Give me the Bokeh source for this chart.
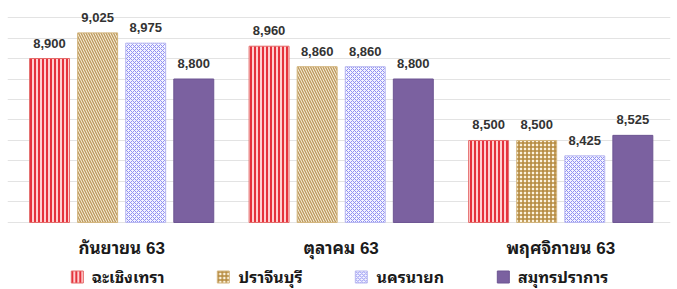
import numpy as np
from bokeh.plotting import figure
from bokeh.models import ColumnDataSource, Legend, LegendItem, FixedTicker, Range1d
from bokeh.embed import file_html
from bokeh.resources import INLINE
from bokeh.core.properties import value

categories = ["กันยายน 63", "ตุลาคม 63", "พฤศจิกายน 63"]
series_names = ["ฉะเชิงเทรา", "ปราจีนบุรี", "นครนายก", "สมุทรปราการ"]
chachoengsao = [8900, 8960, 8500]
prachinburi = [9025, 8860, 8500]
nakhonnayok = [8975, 8860, 8425]
samutprakan = [8800, 8800, 8525]
grid_ticks = list(range(8100, 9101, 100))
y_base, y_top, y_bottom = 8100, 9183, 7773
cat_label_y = 7973

series_values = [chachoengsao, prachinburi, nakhonnayok, samutprakan]
styles = [
    dict(fill_color="#ffd0d0", hatch_color="#e5323c", hatch_pattern=["vertical_line"] * 3,
         hatch_scale=4, hatch_weight=2, line_color="#e46a6a"),
    dict(fill_color="#fcf3df", hatch_color=["#bc9a60", "#bc9a60", "#b58a3e"],
         hatch_pattern=["left_diagonal_line", "left_diagonal_line", "cross"],
         hatch_scale=[5, 5, 4], hatch_weight=[1.4, 1.4, 1.6], line_color="#d2b47c"),
    dict(fill_color="#f4f4ff", hatch_color="#9090f2", hatch_pattern=["diagonal_cross"] * 3,
         hatch_scale=[4] * 3, hatch_weight=[1] * 3, line_color="#b8b8f0"),
    dict(fill_color="#7b61a0", hatch_color="#7b61a0", hatch_pattern=[" "] * 3,
         hatch_scale=[4] * 3, hatch_weight=[1] * 3, line_color="#6d5592"),
]

FONT = "'Liberation Sans', 'Noto Sans Thai Looped', Loma, Garuda, 'Noto Sans Thai', sans-serif"
p = figure(width=677, height=289, output_backend="svg", toolbar_location=None,
           x_range=Range1d(-0.52, 2.50), y_range=Range1d(y_bottom, y_top),
           min_border_left=7, min_border_right=7, min_border_top=0, min_border_bottom=0)
p.outline_line_color = None
p.xaxis.visible = False
p.yaxis.visible = False
p.xgrid.visible = False
p.ygrid.ticker = FixedTicker(ticks=grid_ticks)
p.ygrid.grid_line_color = "#e3e3e3"

offsets = [-1.5, -0.5, 0.5, 1.5]
step = 0.219
bw = 0.182
idx = np.arange(len(categories))
items = []
for k, (name, vals, st) in enumerate(zip(series_names, series_values, styles)):
    x = idx + offsets[k] * step
    hc = st["hatch_color"] if isinstance(st["hatch_color"], list) else [st["hatch_color"]] * 3
    hs = st["hatch_scale"] if isinstance(st["hatch_scale"], list) else [st["hatch_scale"]] * 3
    hw = st["hatch_weight"] if isinstance(st["hatch_weight"], list) else [st["hatch_weight"]] * 3
    src = ColumnDataSource(dict(x=x, top=vals, hp=st["hatch_pattern"], hc=hc, hs=hs, hw=hw,
                                lbl=[f"{v:,}" for v in vals]))
    r = p.vbar(x="x", top="top", bottom=y_base, width=bw, source=src,
               fill_color=st["fill_color"], hatch_color="hc",
               hatch_pattern="hp", hatch_scale="hs", hatch_weight="hw",
               line_color=st["line_color"], line_width=1)
    p.text(x="x", y="top", text="lbl", source=src, text_align="center", text_baseline="bottom",
           y_offset=-11, text_font=value(FONT), text_font_size="13px", text_font_style="bold",
           text_color="#333333")
    items.append(LegendItem(label=name, renderers=[r], index=2))

cat_src = ColumnDataSource(dict(x=idx, y=[cat_label_y] * len(categories), t=categories))
p.text(x="x", y="y", text="t", source=cat_src, text_align="center", text_baseline="middle",
       text_font=value(FONT), text_font_size="17px", text_font_style="bold", text_color="#1a1a1a")

legend = Legend(items=items, orientation="horizontal", location="bottom_center",
                label_text_font=FONT, label_text_font_size="16px", label_text_font_style="bold",
                label_text_color="#1a1a1a", glyph_width=15, glyph_height=15, label_height=16,
                spacing=51, border_line_color=None, background_fill_alpha=0,
                padding=0, margin=0, label_standoff=8)
p.add_layout(legend)

open("out.html", "w").write(file_html(p, INLINE))
